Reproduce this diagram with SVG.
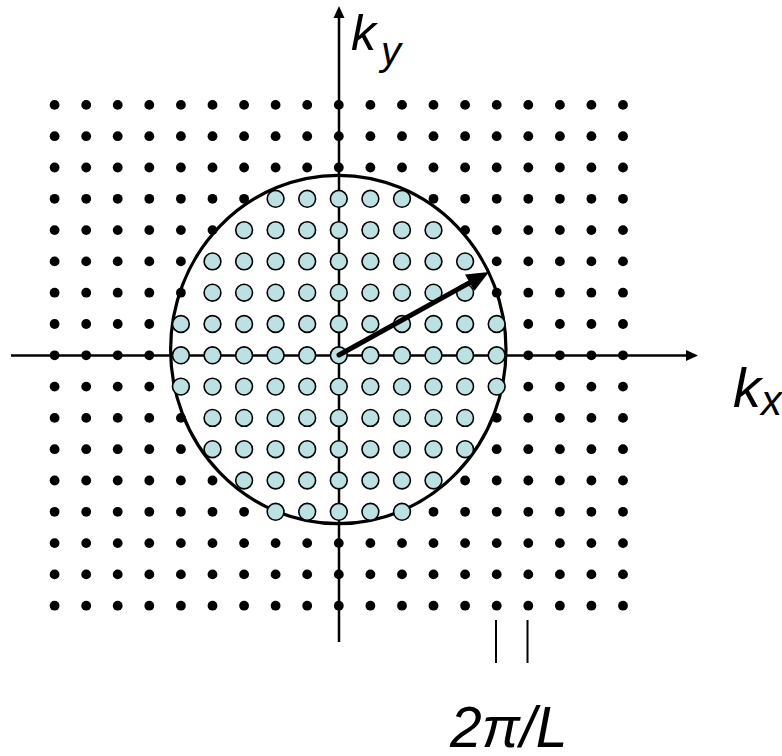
<svg xmlns="http://www.w3.org/2000/svg" xmlns:xlink="http://www.w3.org/1999/xlink" width="782" height="756" viewBox="0 0 782 756">
<style>
.ax{stroke:#000;stroke-width:2.5;fill:none}
.d{fill:#000}
.c{fill:#bde0e2;stroke:#000;stroke-width:1.6}
.lbl{font-family:"Liberation Sans",Arial,sans-serif;font-style:italic;fill:#000}
</style>
<defs>
<g id="row">
<circle class="d" cx="54.6" cy="0" r="4.9"/><circle class="d" cx="86.2" cy="0" r="4.9"/><circle class="d" cx="117.7" cy="0" r="4.9"/><circle class="d" cx="149.3" cy="0" r="4.9"/><circle class="d" cx="180.9" cy="0" r="4.9"/><circle class="d" cx="212.5" cy="0" r="4.9"/><circle class="d" cx="244.1" cy="0" r="4.9"/><circle class="d" cx="275.6" cy="0" r="4.9"/><circle class="d" cx="307.2" cy="0" r="4.9"/><circle class="d" cx="338.8" cy="0" r="4.9"/><circle class="d" cx="370.4" cy="0" r="4.9"/><circle class="d" cx="402" cy="0" r="4.9"/><circle class="d" cx="433.5" cy="0" r="4.9"/><circle class="d" cx="465.1" cy="0" r="4.9"/><circle class="d" cx="496.7" cy="0" r="4.9"/><circle class="d" cx="528.3" cy="0" r="4.9"/><circle class="d" cx="559.9" cy="0" r="4.9"/><circle class="d" cx="591.4" cy="0" r="4.9"/><circle class="d" cx="623" cy="0" r="4.9"/>
</g>
</defs>
<g id="axes">
<line class="ax" x1="339" y1="642" x2="339" y2="16"/>
<polygon points="339,6 333.5,18 344.5,18" fill="#000"/>
<line class="ax" x1="11" y1="355.5" x2="688" y2="355.5"/>
<polygon points="698,355.5 686,350 686,361" fill="#000"/>
</g>
<g id="fermi-surface">
<ellipse cx="338.3" cy="349.5" rx="167.7" ry="174.2" fill="none" stroke="#000" stroke-width="3.2"/>
</g>
<g id="black-dots">
<use xlink:href="#row" y="104.9"/>
<use xlink:href="#row" y="136.2"/>
<use xlink:href="#row" y="167.5"/>
<use xlink:href="#row" y="543.1"/>
<use xlink:href="#row" y="574.4"/>
<use xlink:href="#row" y="605.7"/>
<g transform="translate(0,198.8)"><circle class="d" cx="54.6" cy="0" r="4.9"/><circle class="d" cx="86.2" cy="0" r="4.9"/><circle class="d" cx="117.7" cy="0" r="4.9"/><circle class="d" cx="149.3" cy="0" r="4.9"/><circle class="d" cx="180.9" cy="0" r="4.9"/><circle class="d" cx="212.5" cy="0" r="4.9"/><circle class="d" cx="244.1" cy="0" r="4.9"/><circle class="d" cx="433.5" cy="0" r="4.9"/><circle class="d" cx="465.1" cy="0" r="4.9"/><circle class="d" cx="496.7" cy="0" r="4.9"/><circle class="d" cx="528.3" cy="0" r="4.9"/><circle class="d" cx="559.9" cy="0" r="4.9"/><circle class="d" cx="591.4" cy="0" r="4.9"/><circle class="d" cx="623" cy="0" r="4.9"/></g>
<g transform="translate(0,511.8)"><circle class="d" cx="54.6" cy="0" r="4.9"/><circle class="d" cx="86.2" cy="0" r="4.9"/><circle class="d" cx="117.7" cy="0" r="4.9"/><circle class="d" cx="149.3" cy="0" r="4.9"/><circle class="d" cx="180.9" cy="0" r="4.9"/><circle class="d" cx="212.5" cy="0" r="4.9"/><circle class="d" cx="244.1" cy="0" r="4.9"/><circle class="d" cx="433.5" cy="0" r="4.9"/><circle class="d" cx="465.1" cy="0" r="4.9"/><circle class="d" cx="496.7" cy="0" r="4.9"/><circle class="d" cx="528.3" cy="0" r="4.9"/><circle class="d" cx="559.9" cy="0" r="4.9"/><circle class="d" cx="591.4" cy="0" r="4.9"/><circle class="d" cx="623" cy="0" r="4.9"/></g>
<g transform="translate(0,230.1)"><circle class="d" cx="54.6" cy="0" r="4.9"/><circle class="d" cx="86.2" cy="0" r="4.9"/><circle class="d" cx="117.7" cy="0" r="4.9"/><circle class="d" cx="149.3" cy="0" r="4.9"/><circle class="d" cx="180.9" cy="0" r="4.9"/><circle class="d" cx="212.5" cy="0" r="4.9"/><circle class="d" cx="465.1" cy="0" r="4.9"/><circle class="d" cx="496.7" cy="0" r="4.9"/><circle class="d" cx="528.3" cy="0" r="4.9"/><circle class="d" cx="559.9" cy="0" r="4.9"/><circle class="d" cx="591.4" cy="0" r="4.9"/><circle class="d" cx="623" cy="0" r="4.9"/></g>
<g transform="translate(0,480.5)"><circle class="d" cx="54.6" cy="0" r="4.9"/><circle class="d" cx="86.2" cy="0" r="4.9"/><circle class="d" cx="117.7" cy="0" r="4.9"/><circle class="d" cx="149.3" cy="0" r="4.9"/><circle class="d" cx="180.9" cy="0" r="4.9"/><circle class="d" cx="212.5" cy="0" r="4.9"/><circle class="d" cx="465.1" cy="0" r="4.9"/><circle class="d" cx="496.7" cy="0" r="4.9"/><circle class="d" cx="528.3" cy="0" r="4.9"/><circle class="d" cx="559.9" cy="0" r="4.9"/><circle class="d" cx="591.4" cy="0" r="4.9"/><circle class="d" cx="623" cy="0" r="4.9"/></g>
<g transform="translate(0,261.4)"><circle class="d" cx="54.6" cy="0" r="4.9"/><circle class="d" cx="86.2" cy="0" r="4.9"/><circle class="d" cx="117.7" cy="0" r="4.9"/><circle class="d" cx="149.3" cy="0" r="4.9"/><circle class="d" cx="180.9" cy="0" r="4.9"/><circle class="d" cx="496.7" cy="0" r="4.9"/><circle class="d" cx="528.3" cy="0" r="4.9"/><circle class="d" cx="559.9" cy="0" r="4.9"/><circle class="d" cx="591.4" cy="0" r="4.9"/><circle class="d" cx="623" cy="0" r="4.9"/></g>
<g transform="translate(0,292.7)"><circle class="d" cx="54.6" cy="0" r="4.9"/><circle class="d" cx="86.2" cy="0" r="4.9"/><circle class="d" cx="117.7" cy="0" r="4.9"/><circle class="d" cx="149.3" cy="0" r="4.9"/><circle class="d" cx="180.9" cy="0" r="4.9"/><circle class="d" cx="496.7" cy="0" r="4.9"/><circle class="d" cx="528.3" cy="0" r="4.9"/><circle class="d" cx="559.9" cy="0" r="4.9"/><circle class="d" cx="591.4" cy="0" r="4.9"/><circle class="d" cx="623" cy="0" r="4.9"/></g>
<g transform="translate(0,417.9)"><circle class="d" cx="54.6" cy="0" r="4.9"/><circle class="d" cx="86.2" cy="0" r="4.9"/><circle class="d" cx="117.7" cy="0" r="4.9"/><circle class="d" cx="149.3" cy="0" r="4.9"/><circle class="d" cx="180.9" cy="0" r="4.9"/><circle class="d" cx="496.7" cy="0" r="4.9"/><circle class="d" cx="528.3" cy="0" r="4.9"/><circle class="d" cx="559.9" cy="0" r="4.9"/><circle class="d" cx="591.4" cy="0" r="4.9"/><circle class="d" cx="623" cy="0" r="4.9"/></g>
<g transform="translate(0,449.2)"><circle class="d" cx="54.6" cy="0" r="4.9"/><circle class="d" cx="86.2" cy="0" r="4.9"/><circle class="d" cx="117.7" cy="0" r="4.9"/><circle class="d" cx="149.3" cy="0" r="4.9"/><circle class="d" cx="180.9" cy="0" r="4.9"/><circle class="d" cx="496.7" cy="0" r="4.9"/><circle class="d" cx="528.3" cy="0" r="4.9"/><circle class="d" cx="559.9" cy="0" r="4.9"/><circle class="d" cx="591.4" cy="0" r="4.9"/><circle class="d" cx="623" cy="0" r="4.9"/></g>
<g transform="translate(0,324)"><circle class="d" cx="54.6" cy="0" r="4.9"/><circle class="d" cx="86.2" cy="0" r="4.9"/><circle class="d" cx="117.7" cy="0" r="4.9"/><circle class="d" cx="149.3" cy="0" r="4.9"/><circle class="d" cx="528.3" cy="0" r="4.9"/><circle class="d" cx="559.9" cy="0" r="4.9"/><circle class="d" cx="591.4" cy="0" r="4.9"/><circle class="d" cx="623" cy="0" r="4.9"/></g>
<g transform="translate(0,355.3)"><circle class="d" cx="54.6" cy="0" r="4.9"/><circle class="d" cx="86.2" cy="0" r="4.9"/><circle class="d" cx="117.7" cy="0" r="4.9"/><circle class="d" cx="149.3" cy="0" r="4.9"/><circle class="d" cx="528.3" cy="0" r="4.9"/><circle class="d" cx="559.9" cy="0" r="4.9"/><circle class="d" cx="591.4" cy="0" r="4.9"/><circle class="d" cx="623" cy="0" r="4.9"/></g>
<g transform="translate(0,386.6)"><circle class="d" cx="54.6" cy="0" r="4.9"/><circle class="d" cx="86.2" cy="0" r="4.9"/><circle class="d" cx="117.7" cy="0" r="4.9"/><circle class="d" cx="149.3" cy="0" r="4.9"/><circle class="d" cx="528.3" cy="0" r="4.9"/><circle class="d" cx="559.9" cy="0" r="4.9"/><circle class="d" cx="591.4" cy="0" r="4.9"/><circle class="d" cx="623" cy="0" r="4.9"/></g>
</g>
<g id="occupied-states">
<g transform="translate(0,198.8)"><circle class="c" cx="275.6" cy="0" r="8.4"/><circle class="c" cx="307.2" cy="0" r="8.4"/><circle class="c" cx="338.8" cy="0" r="8.4"/><circle class="c" cx="370.4" cy="0" r="8.4"/><circle class="c" cx="402" cy="0" r="8.4"/></g>
<g transform="translate(0,511.8)"><circle class="c" cx="275.6" cy="0" r="8.4"/><circle class="c" cx="307.2" cy="0" r="8.4"/><circle class="c" cx="338.8" cy="0" r="8.4"/><circle class="c" cx="370.4" cy="0" r="8.4"/><circle class="c" cx="402" cy="0" r="8.4"/></g>
<g transform="translate(0,230.1)"><circle class="c" cx="244.1" cy="0" r="8.4"/><circle class="c" cx="275.6" cy="0" r="8.4"/><circle class="c" cx="307.2" cy="0" r="8.4"/><circle class="c" cx="338.8" cy="0" r="8.4"/><circle class="c" cx="370.4" cy="0" r="8.4"/><circle class="c" cx="402" cy="0" r="8.4"/><circle class="c" cx="433.5" cy="0" r="8.4"/></g>
<g transform="translate(0,480.5)"><circle class="c" cx="244.1" cy="0" r="8.4"/><circle class="c" cx="275.6" cy="0" r="8.4"/><circle class="c" cx="307.2" cy="0" r="8.4"/><circle class="c" cx="338.8" cy="0" r="8.4"/><circle class="c" cx="370.4" cy="0" r="8.4"/><circle class="c" cx="402" cy="0" r="8.4"/><circle class="c" cx="433.5" cy="0" r="8.4"/></g>
<g transform="translate(0,261.4)"><circle class="c" cx="212.5" cy="0" r="8.4"/><circle class="c" cx="244.1" cy="0" r="8.4"/><circle class="c" cx="275.6" cy="0" r="8.4"/><circle class="c" cx="307.2" cy="0" r="8.4"/><circle class="c" cx="338.8" cy="0" r="8.4"/><circle class="c" cx="370.4" cy="0" r="8.4"/><circle class="c" cx="402" cy="0" r="8.4"/><circle class="c" cx="433.5" cy="0" r="8.4"/><circle class="c" cx="465.1" cy="0" r="8.4"/></g>
<g transform="translate(0,292.7)"><circle class="c" cx="212.5" cy="0" r="8.4"/><circle class="c" cx="244.1" cy="0" r="8.4"/><circle class="c" cx="275.6" cy="0" r="8.4"/><circle class="c" cx="307.2" cy="0" r="8.4"/><circle class="c" cx="338.8" cy="0" r="8.4"/><circle class="c" cx="370.4" cy="0" r="8.4"/><circle class="c" cx="402" cy="0" r="8.4"/><circle class="c" cx="433.5" cy="0" r="8.4"/><circle class="c" cx="465.1" cy="0" r="8.4"/></g>
<g transform="translate(0,417.9)"><circle class="c" cx="212.5" cy="0" r="8.4"/><circle class="c" cx="244.1" cy="0" r="8.4"/><circle class="c" cx="275.6" cy="0" r="8.4"/><circle class="c" cx="307.2" cy="0" r="8.4"/><circle class="c" cx="338.8" cy="0" r="8.4"/><circle class="c" cx="370.4" cy="0" r="8.4"/><circle class="c" cx="402" cy="0" r="8.4"/><circle class="c" cx="433.5" cy="0" r="8.4"/><circle class="c" cx="465.1" cy="0" r="8.4"/></g>
<g transform="translate(0,449.2)"><circle class="c" cx="212.5" cy="0" r="8.4"/><circle class="c" cx="244.1" cy="0" r="8.4"/><circle class="c" cx="275.6" cy="0" r="8.4"/><circle class="c" cx="307.2" cy="0" r="8.4"/><circle class="c" cx="338.8" cy="0" r="8.4"/><circle class="c" cx="370.4" cy="0" r="8.4"/><circle class="c" cx="402" cy="0" r="8.4"/><circle class="c" cx="433.5" cy="0" r="8.4"/><circle class="c" cx="465.1" cy="0" r="8.4"/></g>
<g transform="translate(0,324)"><circle class="c" cx="180.9" cy="0" r="8.4"/><circle class="c" cx="212.5" cy="0" r="8.4"/><circle class="c" cx="244.1" cy="0" r="8.4"/><circle class="c" cx="275.6" cy="0" r="8.4"/><circle class="c" cx="307.2" cy="0" r="8.4"/><circle class="c" cx="338.8" cy="0" r="8.4"/><circle class="c" cx="370.4" cy="0" r="8.4"/><circle class="c" cx="402" cy="0" r="8.4"/><circle class="c" cx="433.5" cy="0" r="8.4"/><circle class="c" cx="465.1" cy="0" r="8.4"/><circle class="c" cx="496.7" cy="0" r="8.4"/></g>
<g transform="translate(0,355.3)"><circle class="c" cx="180.9" cy="0" r="8.4"/><circle class="c" cx="212.5" cy="0" r="8.4"/><circle class="c" cx="244.1" cy="0" r="8.4"/><circle class="c" cx="275.6" cy="0" r="8.4"/><circle class="c" cx="307.2" cy="0" r="8.4"/><circle class="c" cx="338.8" cy="0" r="8.4"/><circle class="c" cx="370.4" cy="0" r="8.4"/><circle class="c" cx="402" cy="0" r="8.4"/><circle class="c" cx="433.5" cy="0" r="8.4"/><circle class="c" cx="465.1" cy="0" r="8.4"/><circle class="c" cx="496.7" cy="0" r="8.4"/></g>
<g transform="translate(0,386.6)"><circle class="c" cx="180.9" cy="0" r="8.4"/><circle class="c" cx="212.5" cy="0" r="8.4"/><circle class="c" cx="244.1" cy="0" r="8.4"/><circle class="c" cx="275.6" cy="0" r="8.4"/><circle class="c" cx="307.2" cy="0" r="8.4"/><circle class="c" cx="338.8" cy="0" r="8.4"/><circle class="c" cx="370.4" cy="0" r="8.4"/><circle class="c" cx="402" cy="0" r="8.4"/><circle class="c" cx="433.5" cy="0" r="8.4"/><circle class="c" cx="465.1" cy="0" r="8.4"/><circle class="c" cx="496.7" cy="0" r="8.4"/></g>
</g>
<g id="wavevector">
<line x1="339" y1="355" x2="469.7" y2="282.6" stroke="#000" stroke-width="5" stroke-linecap="round"/>
<polygon points="489,272 474.3,291 465,274.4" fill="#000"/>
</g>
<g id="ticks">
<line x1="496" y1="620" x2="496" y2="663" stroke="#000" stroke-width="2"/>
<line x1="527.5" y1="620" x2="527.5" y2="663" stroke="#000" stroke-width="2"/>
</g>
<g id="labels">
<text class="lbl" x="351" y="50" font-size="50">k</text>
<text class="lbl" x="381" y="65" font-size="40">y</text>
<text class="lbl" x="733" y="407" font-size="56">k</text>
<text class="lbl" x="761" y="415" font-size="42">x</text>
<text class="lbl" x="450" y="747" font-size="57">2π/L</text>
</g>
</svg>
